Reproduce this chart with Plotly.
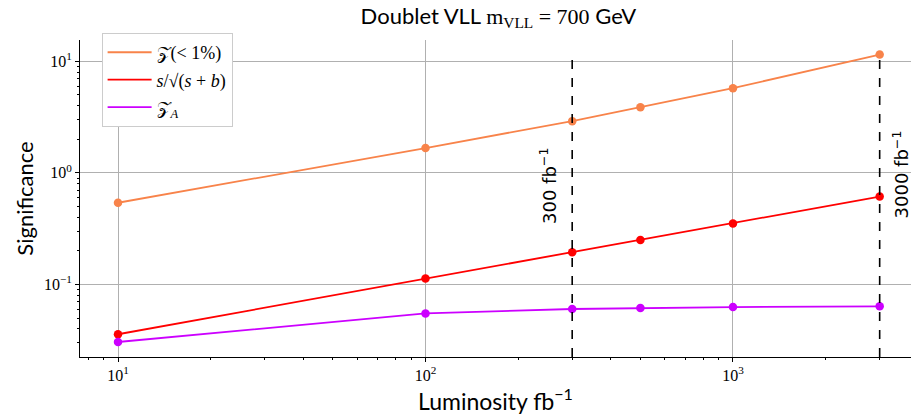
import numpy as np
import plotly.graph_objects as go

lumi = [10, 100, 300, 500, 1000, 3000]
z_1pct = [0.54, 1.67, 2.91, 3.88, 5.74, 11.5]
s_sqrt_sb = [0.0358, 0.113, 0.194, 0.25, 0.352, 0.614]
z_asimov = [0.0305, 0.055, 0.0603, 0.0615, 0.0627, 0.0637]

series_names = ["𝒵(< 1%)", "<i>s</i>/√(<i>s</i> + <i>b</i>)", "𝒵<sub><i>A</i></sub>"]
series_colors = ["#f8834a", "#ff0000", "#cc00ff"]

ref_lumis = [300, 3000]
ref_labels = ["300 fb<sup>−1</sup>", "3000 fb<sup>−1</sup>"]

x_tickvals = [10, 100, 1000]
x_ticktext = ["10<sup>1</sup>", "10<sup>2</sup>", "10<sup>3</sup>"]
y_tickvals = [0.1, 1, 10]
y_ticktext = ["10<sup>−1</sup>", "10<sup>0</sup>", "10<sup>1</sup>"]

fig = go.Figure()
for i, (name, vals, col) in enumerate(zip(series_names, [z_1pct, s_sqrt_sb, z_asimov], series_colors)):
    fig.add_trace(go.Scatter(
        x=lumi, y=vals, mode="lines", name=name,
        line=dict(color=col, width=1.8),
        legendgroup=f"g{i}",
    ))
    fig.add_trace(go.Scatter(
        x=lumi, y=vals, mode="markers", name=name, showlegend=False,
        marker=dict(color=col, size=8.5),
        legendgroup=f"g{i}",
    ))

for lx, lab, xs, yp in zip(ref_lumis, ref_labels, [-24, 21], [0.54, 0.72]):
    fig.add_shape(type="line", xref="x", yref="y domain", x0=lx, x1=lx, y0=0, y1=0.953,
                  line=dict(color="black", width=1.6, dash="dash"))
    fig.add_annotation(x=np.log10(lx), xref="x", y=yp, yref="paper", text=lab,
                       showarrow=False, textangle=-90, xshift=xs,
                       font=dict(family="DejaVu Sans", size=18, color="black"))

serif = "Liberation Serif"
sans = "Lato"

fig.update_layout(
    width=911, height=420,
    margin=dict(l=80, r=0, t=40, b=63, autoexpand=False),
    paper_bgcolor="white", plot_bgcolor="white",
    title=dict(text="Doublet VLL <span style='font-family:Liberation Serif'>m<sub>VLL</sub> = 700</span> GeV",
               x=0.547, xanchor="center", y=0.962, yanchor="middle",
               font=dict(family=sans, size=22, color="black"), automargin=False),
    showlegend=True,
    legend=dict(x=0.026, y=1.022, xanchor="left", yanchor="top",
                bgcolor="white", bordercolor="#cccccc", borderwidth=1,
                font=dict(family=serif, size=18, color="black"),
                tracegroupgap=1, traceorder="grouped", itemwidth=44),
    xaxis=dict(type="log", range=[0.8764, 3.579], automargin=False,
               tickvals=x_tickvals, ticktext=x_ticktext,
               showgrid=True, gridcolor="#b0b0b0", gridwidth=0.8,
               showline=True, linecolor="black", linewidth=1, mirror=False,
               ticks="outside", ticklen=4, tickcolor="black",
               minor=dict(ticks="outside", ticklen=2, tickcolor="black", showgrid=False, dtick="D1"),
               tickfont=dict(family=serif, size=16, color="black"),
               title=dict(text="Luminosity fb<sup>−1</sup>", font=dict(family=sans, size=23, color="black"), standoff=4),
               zeroline=False),
    yaxis=dict(type="log", range=[-1.650, 1.191], automargin=False,
               tickvals=y_tickvals, ticktext=y_ticktext,
               showgrid=True, gridcolor="#b0b0b0", gridwidth=0.8,
               showline=True, linecolor="black", linewidth=1, mirror=False,
               ticks="outside", ticklen=4, tickcolor="black",
               minor=dict(ticks="outside", ticklen=2, tickcolor="black", showgrid=False, dtick="D1"),
               tickfont=dict(family=serif, size=16, color="black"),
               title=dict(text="Significance", font=dict(family=sans, size=22, color="black"), standoff=4),
               zeroline=False),
)

fig.write_html("out.html", config={"displayModeBar": False},
               post_script="document.body.style.margin='0';document.body.style.overflow='hidden';")
